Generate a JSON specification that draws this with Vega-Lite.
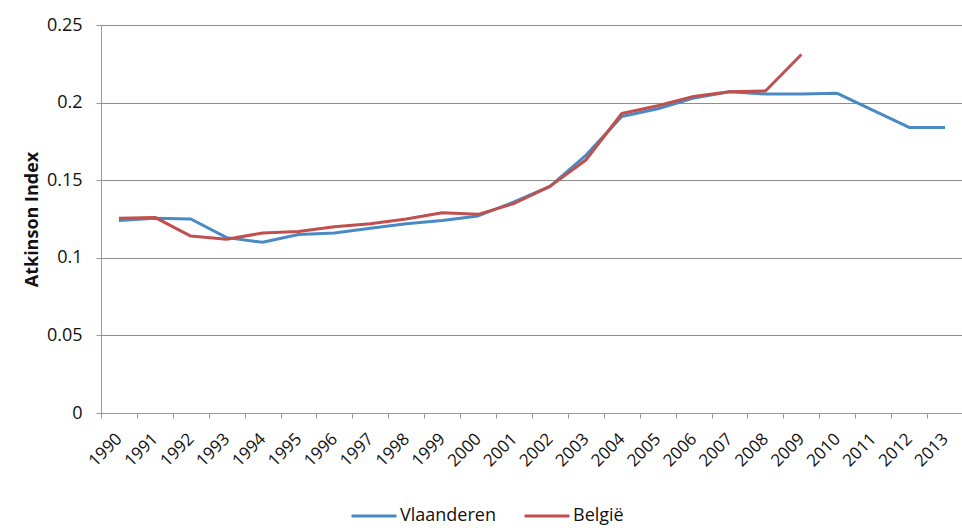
{
  "$schema": "https://vega.github.io/schema/vega-lite/v6.json",
  "autosize": "none",
  "width": 862,
  "height": 388,
  "padding": {"left": 101, "top": 25, "right": 0, "bottom": 117},
  "background": "white",
  "config": {
    "view": {"stroke": null},
    "font": "Open Sans",
    "axis": {"labelFont": "Open Sans", "titleFont": "Open Sans", "labelColor": "#111", "titleColor": "#111"}
  },
  "data": {"values": [
    {"year": "1990", "series": "Vlaanderen", "v": 0.124},
    {"year": "1991", "series": "Vlaanderen", "v": 0.1255},
    {"year": "1992", "series": "Vlaanderen", "v": 0.125},
    {"year": "1993", "series": "Vlaanderen", "v": 0.113},
    {"year": "1994", "series": "Vlaanderen", "v": 0.110},
    {"year": "1995", "series": "Vlaanderen", "v": 0.115},
    {"year": "1996", "series": "Vlaanderen", "v": 0.116},
    {"year": "1997", "series": "Vlaanderen", "v": 0.119},
    {"year": "1998", "series": "Vlaanderen", "v": 0.122},
    {"year": "1999", "series": "Vlaanderen", "v": 0.124},
    {"year": "2000", "series": "Vlaanderen", "v": 0.127},
    {"year": "2001", "series": "Vlaanderen", "v": 0.136},
    {"year": "2002", "series": "Vlaanderen", "v": 0.146},
    {"year": "2003", "series": "Vlaanderen", "v": 0.166},
    {"year": "2004", "series": "Vlaanderen", "v": 0.191},
    {"year": "2005", "series": "Vlaanderen", "v": 0.196},
    {"year": "2006", "series": "Vlaanderen", "v": 0.203},
    {"year": "2007", "series": "Vlaanderen", "v": 0.207},
    {"year": "2008", "series": "Vlaanderen", "v": 0.2055},
    {"year": "2009", "series": "Vlaanderen", "v": 0.2055},
    {"year": "2010", "series": "Vlaanderen", "v": 0.206},
    {"year": "2011", "series": "Vlaanderen", "v": 0.195},
    {"year": "2012", "series": "Vlaanderen", "v": 0.184},
    {"year": "2013", "series": "Vlaanderen", "v": 0.184},
    {"year": "1990", "series": "België", "v": 0.1255},
    {"year": "1991", "series": "België", "v": 0.126},
    {"year": "1992", "series": "België", "v": 0.114},
    {"year": "1993", "series": "België", "v": 0.112},
    {"year": "1994", "series": "België", "v": 0.116},
    {"year": "1995", "series": "België", "v": 0.117},
    {"year": "1996", "series": "België", "v": 0.120},
    {"year": "1997", "series": "België", "v": 0.122},
    {"year": "1998", "series": "België", "v": 0.125},
    {"year": "1999", "series": "België", "v": 0.129},
    {"year": "2000", "series": "België", "v": 0.128},
    {"year": "2001", "series": "België", "v": 0.135},
    {"year": "2002", "series": "België", "v": 0.146},
    {"year": "2003", "series": "België", "v": 0.163},
    {"year": "2004", "series": "België", "v": 0.193},
    {"year": "2005", "series": "België", "v": 0.198},
    {"year": "2006", "series": "België", "v": 0.204},
    {"year": "2007", "series": "België", "v": 0.207},
    {"year": "2008", "series": "België", "v": 0.2075},
    {"year": "2009", "series": "België", "v": 0.231}
  ]},
  "mark": {"type": "line", "strokeWidth": 3, "strokeJoin": "round"},
  "encoding": {
    "x": {
      "field": "year", "type": "ordinal", "title": null,
      "scale": {"paddingInner": 0, "paddingOuter": 0},
      "axis": {
        "labelAngle": -45, "labelAlign": "right", "labelBaseline": "middle",
        "labelFontSize": 17, "labelPadding": 18, "bandPosition": 0,
        "tickBand": "extent", "ticks": true, "tickSize": 5, "tickColor": "#999",
        "domainColor": "#999", "grid": false
      }
    },
    "y": {
      "field": "v", "type": "quantitative", "title": "Atkinson Index",
      "scale": {"domain": [0, 0.25], "nice": false},
      "axis": {
        "values": [0, 0.05, 0.1, 0.15, 0.2, 0.25],
        "labelExpr": "datum.value === 0 ? '0' : format(datum.value, '.2~f')",
        "labelFontSize": 18, "labelPadding": 14,
        "tickSize": 5, "tickColor": "#999", "domainColor": "#999",
        "gridColor": "#8c8c8c", "gridWidth": 1,
        "titleFontSize": 18, "titleFontWeight": "bold", "titlePadding": 5
      }
    },
    "color": {
      "field": "series", "type": "nominal",
      "scale": {"domain": ["Vlaanderen", "België"], "range": ["#4a8ac4", "#c0504d"]},
      "legend": {
        "title": null, "orient": "none", "direction": "horizontal",
        "legendX": 249, "legendY": 467,
        "symbolType": "stroke", "symbolSize": 2025, "symbolStrokeWidth": 3,
        "labelFontSize": 18, "labelColor": "#111", "labelOffset": 2, "columnPadding": 22
      }
    }
  }
}
